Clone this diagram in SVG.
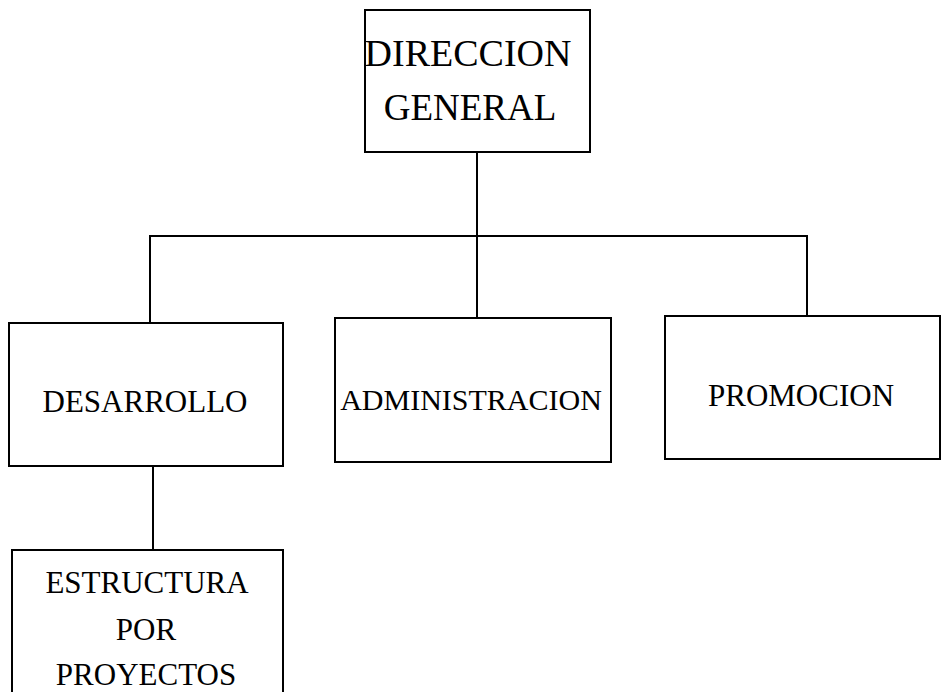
<svg xmlns="http://www.w3.org/2000/svg" width="948" height="692" viewBox="0 0 948 692">
<style>
.box{fill:#fff;stroke:#000;stroke-width:2}
.lbl{font-family:"Liberation Serif","Times New Roman",serif;fill:#000;text-anchor:middle}
.con{fill:none;stroke:#000;stroke-width:2}
</style>
<rect width="948" height="692" fill="#fff"/>
<g id="connectors">
<path class="con" d="M477 152V318"/>
<path class="con" d="M150 323V236H807V316"/>
<path class="con" d="M153 466V550"/>
</g>
<g id="direccion">
<rect class="box" x="365" y="10" width="225" height="142"/>
<text class="lbl" x="468" y="66" font-size="38">DIRECCION</text>
<text class="lbl" x="470" y="120" font-size="37">GENERAL</text>
</g>
<g id="desarrollo">
<rect class="box" x="9" y="323" width="274" height="143"/>
<text class="lbl" x="145" y="412" font-size="31">DESARROLLO</text>
</g>
<g id="administracion">
<rect class="box" x="335" y="318" width="276" height="144"/>
<text class="lbl" x="471" y="410" font-size="30">ADMINISTRACION</text>
</g>
<g id="promocion">
<rect class="box" x="665" y="316" width="275" height="143"/>
<text class="lbl" x="801" y="406" font-size="31">PROMOCION</text>
</g>
<g id="estructura">
<rect class="box" x="12" y="550" width="271" height="160"/>
<text class="lbl" x="147" y="593" font-size="31">ESTRUCTURA</text>
<text class="lbl" x="146" y="640" font-size="31">POR</text>
<text class="lbl" x="146" y="685" font-size="31">PROYECTOS</text>
</g>
</svg>
